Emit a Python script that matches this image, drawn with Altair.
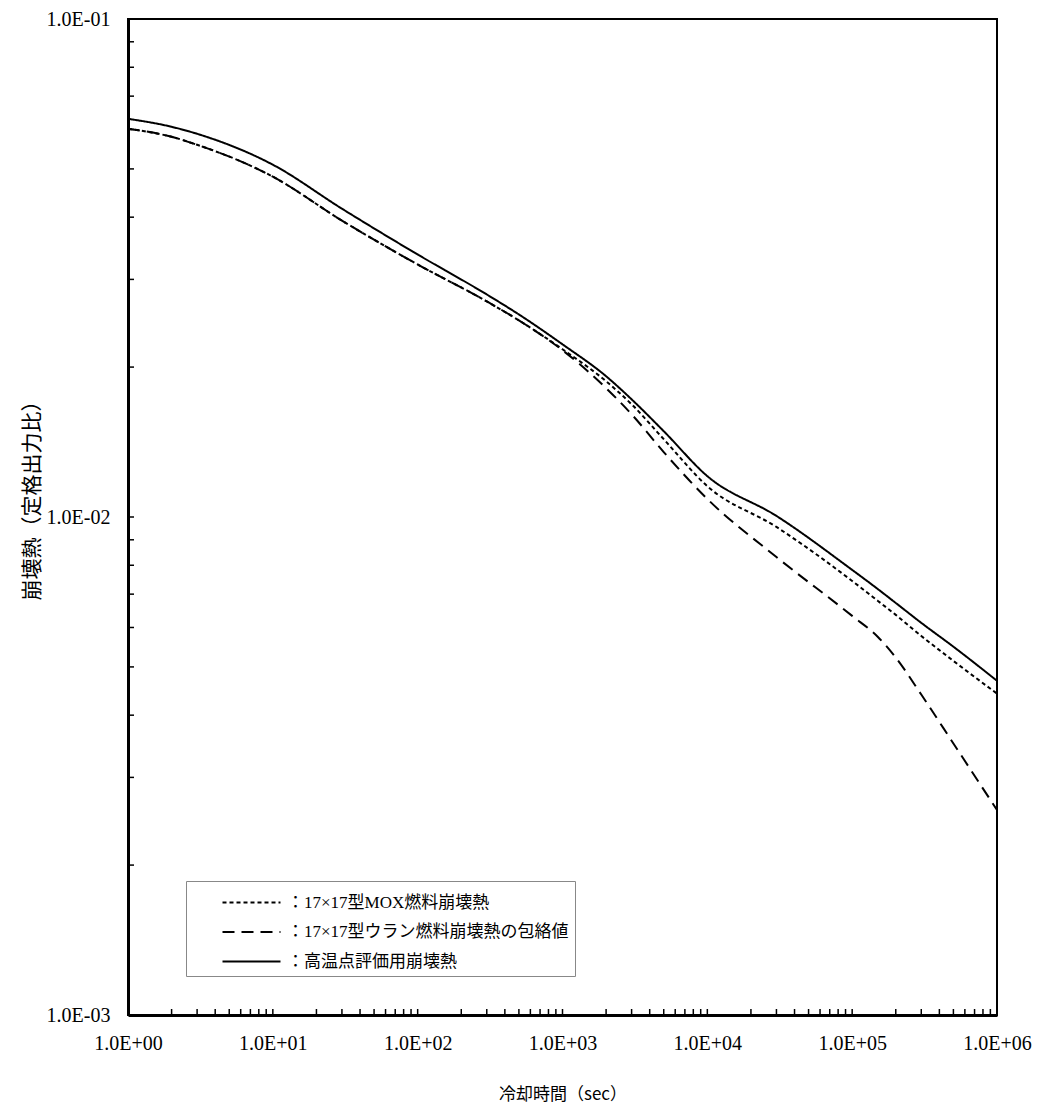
import altair as alt
import pandas as pd

# cooling time (sec)
times = [1, 2, 3, 10, 30, 100, 300, 500, 1000, 2000, 3000, 5000,
         1e4, 3e4, 1e5, 1.5e5, 2e5, 3e5, 5e5, 1e6]
# 17x17 MOX fuel decay heat
mox = [0.0602, 0.0580, 0.0559, 0.04824, 0.03937, 0.03214, 0.02710, 0.02482,
       0.02172, 0.01873, 0.01684, 0.01433, 0.01153, 0.00955, 0.00744,
       0.00679, 0.00636, 0.00577, 0.00514, 0.00442]
# 17x17 uranium fuel decay heat envelope
uran = [0.0602, 0.0580, 0.0559, 0.04824, 0.03937, 0.03214, 0.02710, 0.02482,
        0.02162, 0.01814, 0.01608, 0.01350, 0.01087, 0.00831, 0.00633,
        0.00575, 0.00522, 0.00440, 0.00351, 0.00258]
# decay heat for hot-spot evaluation
hot = [0.06304, 0.06075, 0.05881, 0.05098, 0.04160, 0.03366, 0.02798, 0.02551,
       0.02222, 0.01917, 0.01723, 0.01487, 0.01208, 0.01005, 0.00783,
       0.00717, 0.00672, 0.00613, 0.00549, 0.00469]

series_names = ["：17×17型MOX燃料崩壊熱",
                "：17×17型ウラン燃料崩壊熱の包絡値",
                "：高温点評価用崩壊熱"]
dash_styles = [[4, 3], [12, 7], [1, 0]]

x_ticks = [1, 10, 100, 1000, 1e4, 1e5, 1e6]
x_tick_labels = ["1.0E+00", "1.0E+01", "1.0E+02", "1.0E+03",
                 "1.0E+04", "1.0E+05", "1.0E+06"]
y_ticks = [1e-3, 1e-2, 1e-1]
y_tick_labels = ["1.0E-03", "1.0E-02", "1.0E-01"]

x_minor = [k * 10 ** d for d in range(6) for k in range(1, 10) if not (k == 1 and d == 0)]
y_minor = [k * 10.0 ** d for d in (-3, -2) for k in range(1, 10) if not (k == 1 and d == -3)]

rows = []
for name, vals in zip(series_names, [mox, uran, hot]):
    for t, v in zip(times, vals):
        rows.append({"t": t, "q": v, "series": name})
df = pd.DataFrame(rows)

W, H = 869, 996
latin = "Liberation Serif, Noto Sans CJK JP"

xlab_expr = "[" + ",".join("'%s'" % s for s in x_tick_labels) + "][round(log(datum.value)/LN10)]"
ylab_expr = "[" + ",".join("'%s'" % s for s in y_tick_labels) + "][round(log(datum.value)/LN10)+3]"

xscale = alt.Scale(type="log", domain=[1, 1e6], nice=False)
yscale = alt.Scale(type="log", domain=[1e-3, 1e-1], nice=False)

x_enc = alt.X("t:Q", scale=xscale,
              axis=alt.Axis(values=x_ticks, labelExpr=xlab_expr, ticks=False, grid=False,
                            labelFlush=False, labelPadding=18, labelFontSize=20,
                            labelFont=latin, labelColor="black",
                            domainWidth=3, domainColor="black",
                            title="冷却時間（sec）", titleFont="Noto Sans CJK JP",
                            titleFontSize=17, titleFontWeight="normal",
                            titlePadding=33, titleColor="black"))
y_enc = alt.Y("q:Q", scale=yscale,
              axis=alt.Axis(values=y_ticks, labelExpr=ylab_expr, ticks=False, grid=False,
                            labelPadding=18, labelFontSize=20, labelFont=latin,
                            labelColor="black", domainWidth=3, domainColor="black",
                            title="崩壊熱（定格出力比）", titleFont="Noto Sans CJK JP",
                            titleFontSize=21, titleFontWeight="normal",
                            titlePadding=4, titleY=476, titleColor="black"))

lines = alt.Chart(df).mark_line(color="black", strokeWidth=2, interpolate="monotone").encode(
    x=x_enc, y=y_enc,
    strokeDash=alt.StrokeDash(
        "series:N",
        scale=alt.Scale(domain=series_names, range=dash_styles),
        legend=alt.Legend(title=None, orient="none", legendX=58, legendY=862,
                          direction="vertical", symbolType="M-2,0H2",
                          symbolSize=841, symbolStrokeWidth=2,
                          symbolStrokeColor="black", symbolFillColor="transparent",
                          symbolOffset=44,
                          labelFont=latin, labelFontSize=17, labelColor="black",
                          labelOffset=20, labelLimit=0,
                          strokeColor="#888888", padding=6,
                          rowPadding=5.5, fillColor="white"),
    ),
)

xt = alt.Chart(pd.DataFrame({"t": x_minor})).mark_rule(color="black", strokeWidth=1.5).encode(
    x=x_enc, y=alt.value(H), y2=alt.value(H - 6))
yt = alt.Chart(pd.DataFrame({"q": y_minor})).mark_rule(color="black", strokeWidth=1.5).encode(
    y=y_enc, x=alt.value(0), x2=alt.value(6))

chart = alt.layer(xt, yt, lines).properties(
    width=W, height=H,
    background="white",
    autosize=alt.AutoSizeParams(type="none"),
    padding={"left": 120, "top": 11, "right": 36, "bottom": 90},
).configure_view(stroke="black", strokeWidth=2)

chart.save("out.html", embed_options={"renderer": "svg", "actions": False})
